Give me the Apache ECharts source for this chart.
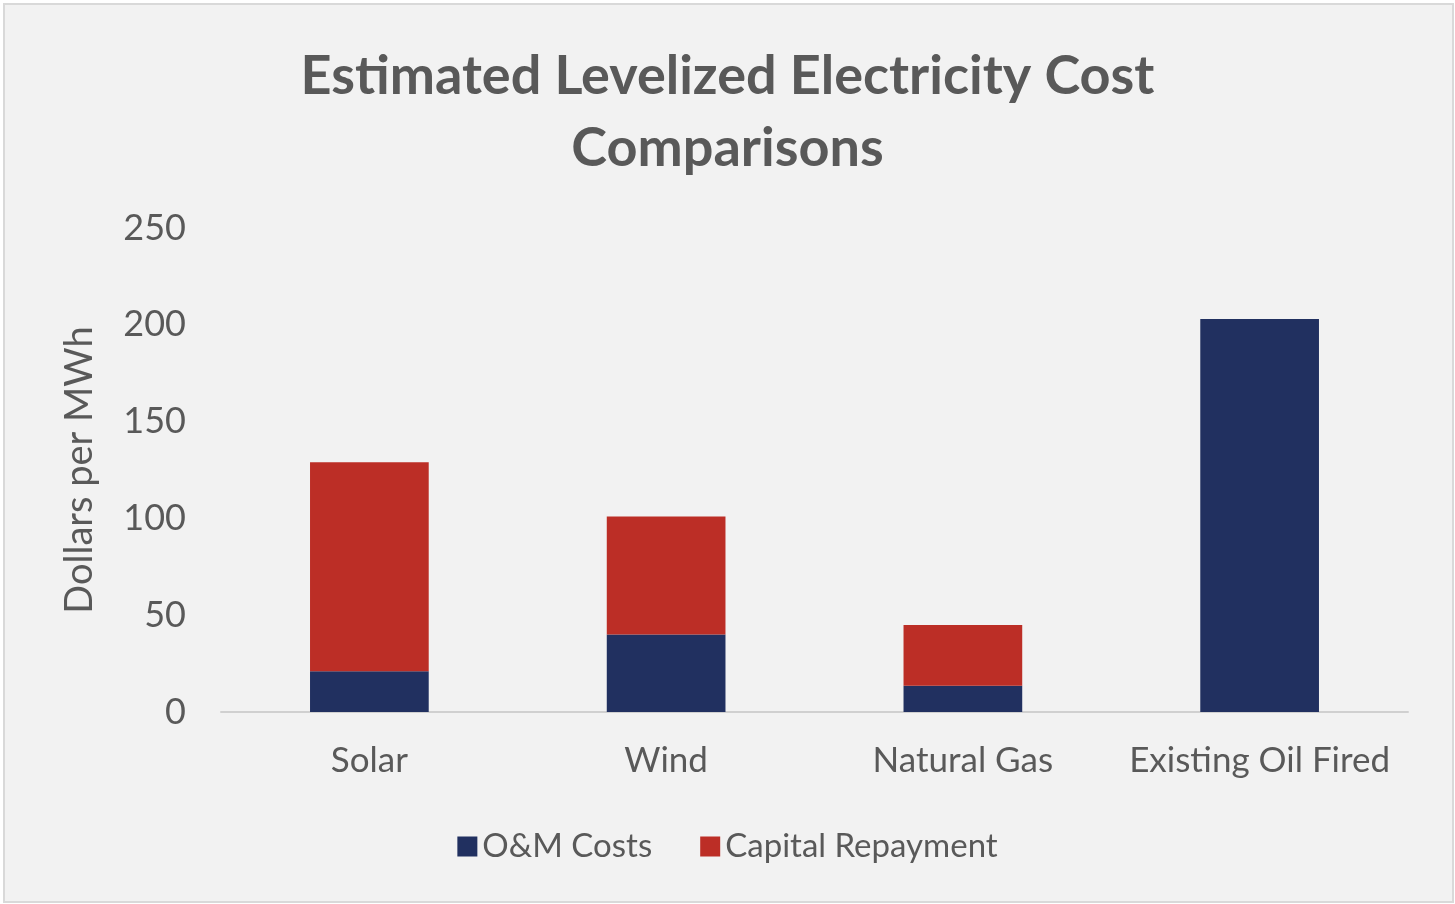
<!DOCTYPE html>
<html>
<head>
<meta charset="utf-8">
<script src="https://cdn.jsdelivr.net/npm/echarts@6/dist/echarts.min.js"></script>
<style>
html,body{margin:0;padding:0;background:#fff;}
#wrap{position:absolute;left:3px;top:3px;width:1447px;height:896px;border:2px solid #d9d9d9;background:#f2f2f2;}
#chart{position:absolute;left:-5px;top:-5px;width:1455px;height:904px;}
</style>
</head>
<body>
<div id="wrap"><div id="chart"></div></div>
<script>
const categories = ['Solar', 'Wind', 'Natural Gas', 'Existing Oil Fired'];
const omCosts = [21, 40, 13.5, 203];
const capitalRepayment = [108, 61, 31.5, 0];
const yTicks = [0, 50, 100, 150, 200, 250];

const chart = echarts.init(document.getElementById('chart'));
const textColor = '#595959';
const font = 'Lato';
chart.setOption({
  backgroundColor: 'transparent',
  title: {
    text: 'Estimated Levelized Electricity Cost\nComparisons',
    left: 'center',
    top: 36,
    textStyle: {fontFamily: font, fontWeight: 'bold', fontSize: 54, lineHeight: 72, color: textColor}
  },
  grid: {left: 221, right: 47, top: 228, bottom: 192},
  legend: {
    bottom: 36,
    left: 'center',
    itemWidth: 20, itemHeight: 20, itemGap: 48,
    icon: 'rect',
    textStyle: {fontFamily: font, fontSize: 33, color: textColor},
    data: ['O&M Costs', 'Capital Repayment']
  },
  xAxis: {
    type: 'category',
    data: categories,
    axisLine: {lineStyle: {color: '#d0d0d0', width: 2}},
    axisTick: {show: false},
    axisLabel: {fontFamily: font, fontSize: 35, color: textColor, margin: 31, interval: 0}
  },
  yAxis: {
    type: 'value',
    min: yTicks[0], max: yTicks[yTicks.length - 1], interval: 50,
    name: 'Dollars per MWh',
    nameLocation: 'middle',
    nameGap: 122,
    nameTextStyle: {fontFamily: font, fontSize: 38, color: textColor},
    axisLine: {show: false},
    axisTick: {show: false},
    splitLine: {show: false},
    axisLabel: {fontFamily: font, fontSize: 36, color: textColor, margin: 35}
  },
  series: [
    {name: 'O&M Costs', type: 'bar', stack: 'total', data: omCosts, barWidth: '40%',
     itemStyle: {color: '#213060'}},
    {name: 'Capital Repayment', type: 'bar', stack: 'total', data: capitalRepayment, barWidth: '40%',
     itemStyle: {color: '#bc2e26'}}
  ]
});
</script>
</body>
</html>
